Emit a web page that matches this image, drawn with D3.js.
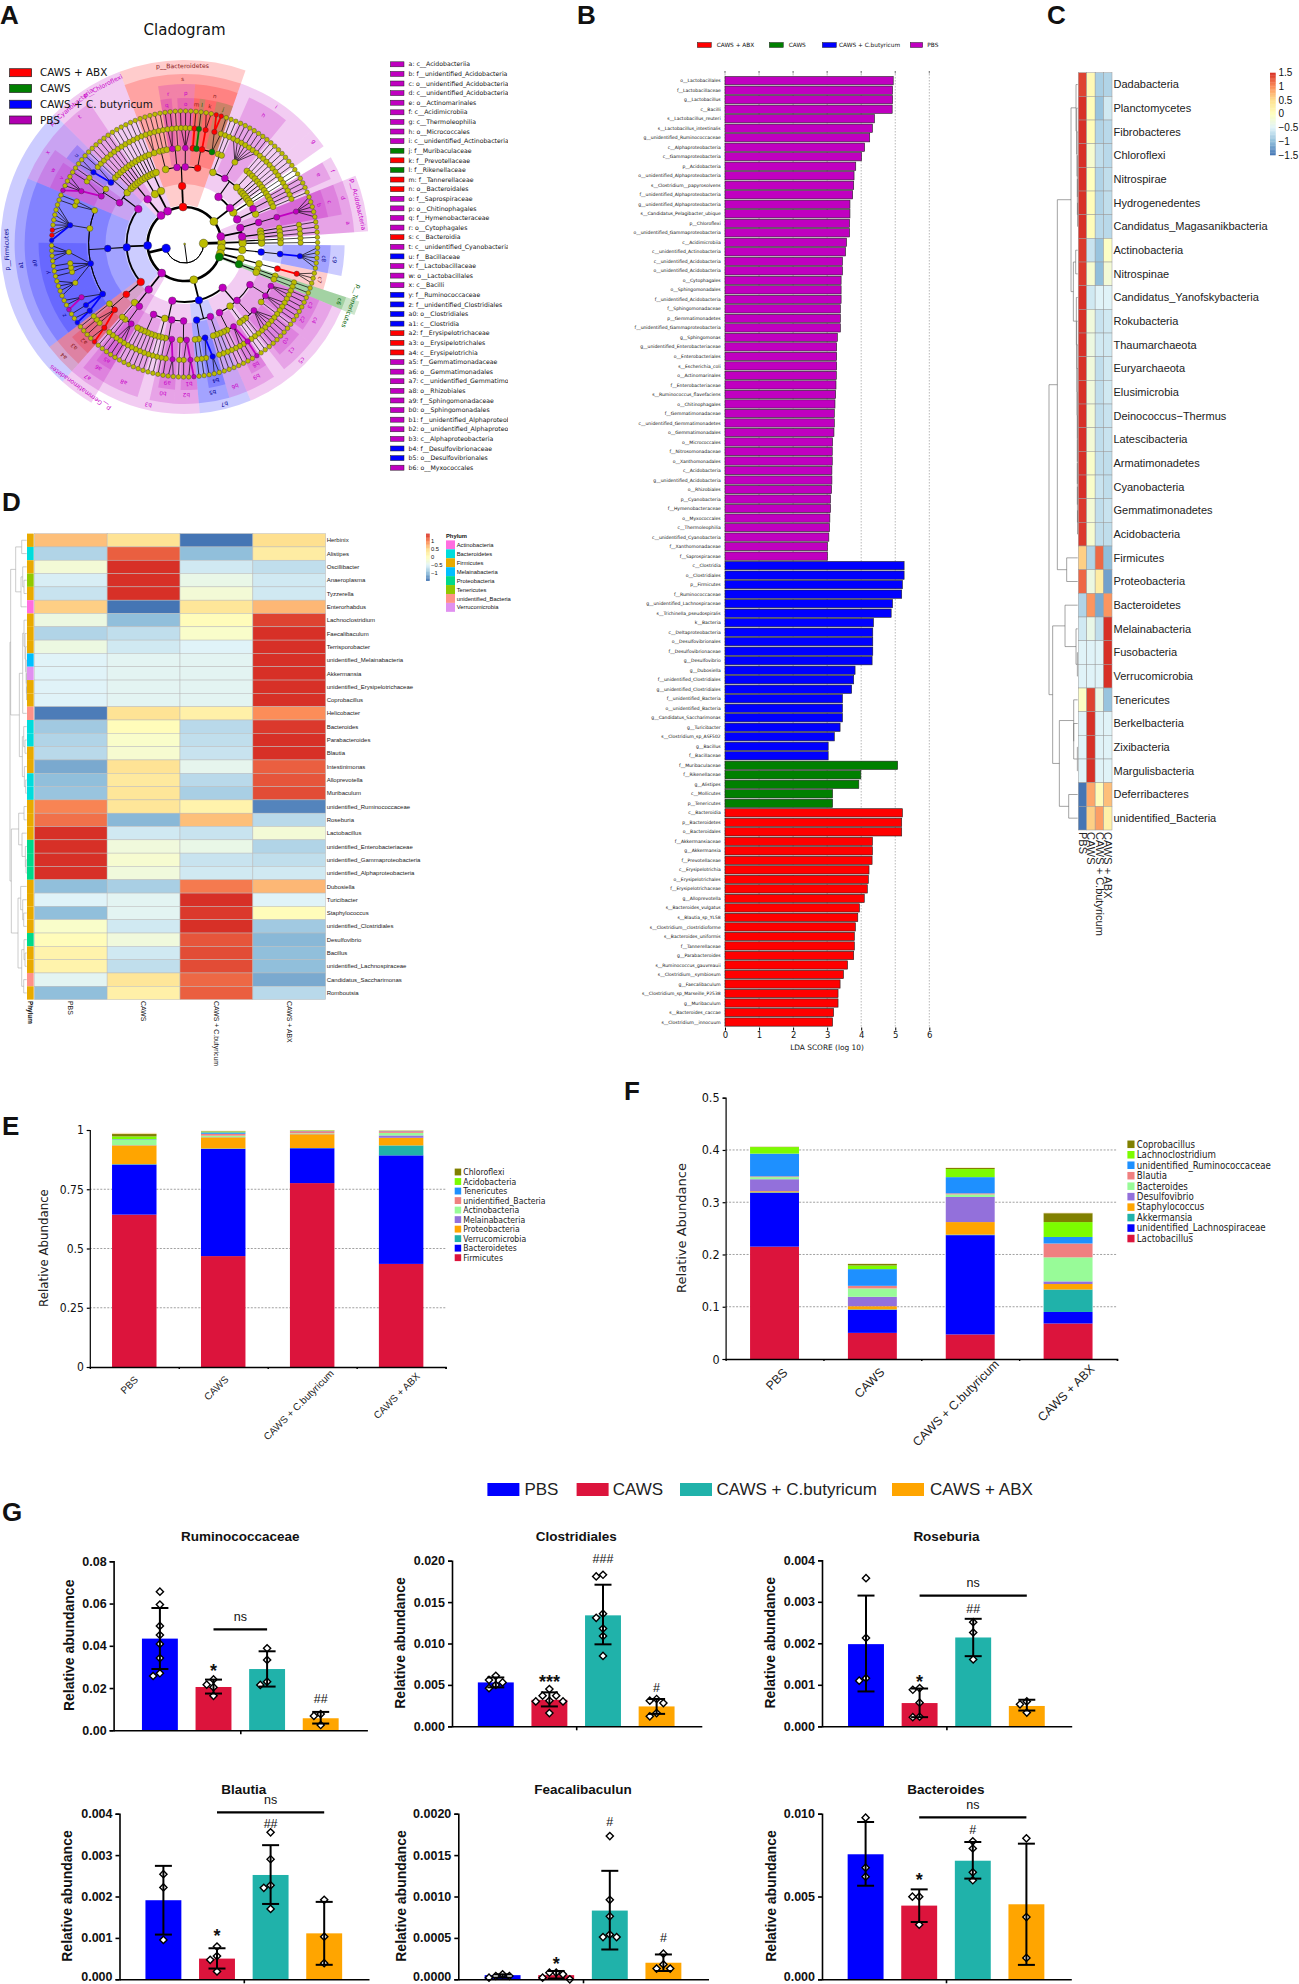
<!DOCTYPE html>
<html lang="en">
<head>
<meta charset="utf-8">
<script src="https://d3js.org/d3.v7.min.js"></script>
<style>
  body { margin: 0; background: white; }
  svg { display: block; }
  text { font-family: "Liberation Sans", Arial, sans-serif; fill: #111; }
  .dv { font-family: "DejaVu Sans", sans-serif; }
  .cond { font-family: "DejaVu Sans Condensed", "DejaVu Sans", sans-serif; font-stretch: condensed; }
  .bold { font-weight: bold; }
</style>
</head>
<body>
<svg id="fig" width="1299" height="1984"></svg>
<script>
// ---------- shared
const colRed = "#ff0000", colGreen = "#008000", colBlue = "#0000ff", colPurple = "#c000c0", colOlive = "#bcbc00";
const cladeColors = { r: colRed, g: colGreen, b: colBlue, p: colPurple };
const cladeText = { r: "#8b1a1a", g: "#006000", b: "#000090", p: "#c800c8" };
const groupNames = ["PBS", "CAWS", "CAWS + C.butyricum", "CAWS + ABX"];
const heatPalette = ["#4575b4", "#91bfdb", "#e0f3f8", "#ffffbf", "#fee090", "#fc8d59", "#d73027"];

// ---------- A cladogram
// node = ["colour:label", ...children], a bare number n = n plain branches down to species level
const cladeTree = ["",
  ["", ["", 2]],
  ["b",
    ["", ["", ["b:c9", ["b:c8", ["b", 5]]]]],
    ["", ["", ["", ["r:c7", ["r", 3]]]]],
    ["g:p__Tenericutes", ["g:c6", 2]],
    ["",
      ["p:c5",
        ["p:c4", ["p:c3", 3], ["p:c2", 3], 1],
        ["p:c1", ["p:c0", 5], 1],
        ["", 2],
        ["p:b9", ["p:b8", ["p", ["p"]], 2], 2]],
      ["b:b7", ["p:b6", 3], ["b:b5", ["b:b4", ["b", 2], 1], 2]],
      ["p:b3",
        ["p:b2", ["p:b1", ["p", ["p"], 1], 1], 1],
        ["p:b0", ["p:a9", ["p", 2], 1], 1],
        ["", 2],
        ["p:a8", 6]]],
    ["p:p__Gemmatimonadetes", ["p:a7", ["p:a6", ["p:a5", 3], 1], 1]],
    ["b:p__Firmicutes",
      ["r:a4", ["r:a3", ["r:a2", ["r", ["r"], 1], 2], 1]],
      ["b:a1", ["b:a0",
        ["b:z", ["b", ["b"], 1], ["b", 1], ["p", ["p"], 2]],
        ["b:y", ["", 4], 3, ["", 4]],
        ["", ["b", ["b"], ["r"], ["r"], 5]],
        ["", 2]]],
      ["p:x",
        ["p:w", ["p:v", ["p", ["p"], 3], 1], 1],
        ["", ["b:u", ["b", 2], 1], 1]]],
    ["p:p__Cyanobacteria", ["p:t", 5]],
    ["p:p__Chloroflexi", ["", 3], ["", 3]],
    ["r:p__Bacteroidetes", ["r:s",
      ["", ["", 2], 3],
      ["p:r", ["p:q", 2], 1],
      ["p:p", ["p:o", 3]],
      ["r:n", ["r:m", ["r", 1]], ["g:l", ["g", 1]], ["r:k", ["r", 2]], ["g:j", ["r", ["r"], ["r"]], 1]]]],
    ["",
      ["p:i", ["", 2], ["p:h", ["", 7]], ["", 3], 1],
      ["p:g", 3],
      ["", 2],
      ["p:f", ["p:e", 3], 1]],
    ["p:p__Acidobacteria", ["p:d", ["p:c", ["p:b", ["p", 5]]]], ["p:a", 3]]
  ]
];
const cladeLegendLetters = ["a","b","c","d","e","f","g","h","i","j","k","l","m","n","o","p","q","r","s","t","u","v","w","x","y","z","a0","a1","a2","a3","a4","a5","a6","a7","a8","a9","b0","b1","b2","b3","b4","b5","b6"];
const cladeLegendTaxa = ["c__Acidobacteriia","f__unidentified_Acidobacteria","o__unidentified_Acidobacteria","c__unidentified_Acidobacteria","o__Actinomarinales","c__Acidimicrobiia","c__Thermoleophilia","o__Micrococcales","c__unidentified_Actinobacteria","f__Muribaculaceae","f__Prevotellaceae","f__Rikenellaceae","f__Tannerellaceae","o__Bacteroidales","f__Saprospiraceae","o__Chitinophagales","f__Hymenobacteraceae","o__Cytophagales","c__Bacteroidia","c__unidentified_Cyanobacteria","f__Bacillaceae","f__Lactobacillaceae","o__Lactobacillales","c__Bacilli","f__Ruminococcaceae","f__unidentified_Clostridiales","o__Clostridiales","c__Clostridia","f__Erysipelotrichaceae","o__Erysipelotrichales","c__Erysipelotrichia","f__Gemmatimonadaceae","o__Gemmatimonadales","c__unidentified_Gemmatimonadetes","o__Rhizobiales","f__Sphingomonadaceae","o__Sphingomonadales","f__unidentified_Alphaproteobacteria","o__unidentified_Alphaproteobacteria","c__Alphaproteobacteria","f__Desulfovibrionaceae","o__Desulfovibrionales","o__Myxococcales"];
const cladeLegendColors = "pppppppppgrgrrppppr" .split("").concat("p","b","p","p","p","b","b","b","b","r","r","r","p","p","p","p","p","p","p","p","p","b","b","p");
const cladeKeyNames = ["CAWS + ABX", "CAWS", "CAWS + C. butyricum", "PBS"];

// ---------- B LDA
const ldaPbsNames = ["o__Lactobacillales","f__Lactobacillaceae","g__Lactobacillus","c__Bacilli","s__Lactobacillus_reuteri","s__Lactobacillus_intestinalis","g__unidentified_Ruminococcaceae","c__Alphaproteobacteria","c__Gammaproteobacteria","p__Acidobacteria","o__unidentified_Alphaproteobacteria","s__Clostridium__papyrosolvens","f__unidentified_Alphaproteobacteria","g__unidentified_Alphaproteobacteria","s__Candidatus_Pelagibacter_ubique","p__Chloroflexi","o__unidentified_Gammaproteobacteria","c__Acidimicrobiia","c__unidentified_Actinobacteria","c__unidentified_Acidobacteria","o__unidentified_Acidobacteria","o__Cytophagales","o__Sphingomonadales","f__unidentified_Acidobacteria","f__Sphingomonadaceae","p__Gemmatimonadetes","f__unidentified_Gammaproteobacteria","g__Sphingomonas","g__unidentified_Enterobacteriaceae","o__Enterobacteriales","s__Escherichia_coli","o__Actinomarinales","f__Enterobacteriaceae","s__Ruminococcus_flavefaciens","o__Chitinophagales","f__Gemmatimonadaceae","c__unidentified_Gemmatimonadetes","o__Gemmatimonadales","o__Micrococcales","f__Nitrosomonadaceae","o__Xanthomonadales","c__Acidobacteria","g__unidentified_Acidobacteria","o__Rhizobiales","p__Cyanobacteria","f__Hymenobacteraceae","o__Myxococcales","c__Thermoleophilia","c__unidentified_Cyanobacteria","f__Xanthomonadaceae","f__Saprospiraceae"];
const ldaPbsScores = [4.94,4.92,4.92,4.91,4.39,4.33,4.25,4.10,4.01,3.84,3.79,3.78,3.75,3.67,3.67,3.66,3.66,3.57,3.54,3.45,3.45,3.41,3.41,3.41,3.39,3.39,3.39,3.30,3.28,3.28,3.28,3.27,3.26,3.25,3.23,3.21,3.21,3.20,3.16,3.15,3.15,3.14,3.14,3.13,3.10,3.10,3.08,3.07,3.05,3.01,3.01];
const ldaCbNames = ["c__Clostridia","o__Clostridiales","p__Firmicutes","f__Ruminococcaceae","g__unidentified_Lachnospiraceae","s__Trichinella_pseudospiralis","k__Bacteria","c__Deltaproteobacteria","o__Desulfovibrionales","f__Desulfovibrionaceae","g__Desulfovibrio","g__Dubosiella","f__unidentified_Clostridiales","g__unidentified_Clostridiales","f__unidentified_Bacteria","o__unidentified_Bacteria","g__Candidatus_Saccharimonas","g__Turicibacter","s__Clostridium_sp_ASF502","g__Bacillus","f__Bacillaceae"];
const ldaCbScores = [5.26,5.26,5.21,5.19,4.92,4.88,4.36,4.34,4.34,4.34,4.32,3.82,3.78,3.72,3.45,3.45,3.45,3.38,3.21,3.03,3.03];
const ldaCawsNames = ["f__Muribaculaceae","f__Rikenellaceae","g__Alistipes","c__Mollicutes","p__Tenericutes"];
const ldaCawsScores = [5.07,3.99,3.93,3.16,3.16];
const ldaAbxNames = ["c__Bacteroidia","p__Bacteroidetes","o__Bacteroidales","f__Akkermansiaceae","g__Akkermansia","f__Prevotellaceae","c__Erysipelotrichia","o__Erysipelotrichales","f__Erysipelotrichaceae","g__Alloprevotella","s__Bacteroides_vulgatus","s__Blautia_sp_YL58","s__Clostridium__clostridioforme","s__Bacteroides_uniformis","f__Tannerellaceae","g__Parabacteroides","s__Ruminococcus_gauvreauii","s__Clostridium__symbiosum","g__Faecalibaculum","s__Clostridium_sp_Marseille_P2538","g__Muribaculum","s__Bacteroides_caccae","s__Clostridium__innocuum"];
const ldaAbxScores = [5.21,5.19,5.19,4.33,4.33,4.32,4.23,4.21,4.18,4.09,3.95,3.90,3.83,3.80,3.80,3.78,3.60,3.48,3.38,3.32,3.32,3.19,3.16];

// ---------- C phylum heatmap
const phylaC = ["Dadabacteria","Planctomycetes","Fibrobacteres","Chloroflexi","Nitrospirae","Hydrogenedentes","Candidatus_Magasanikbacteria","Actinobacteria","Nitrospinae","Candidatus_Yanofskybacteria","Rokubacteria","Thaumarchaeota","Euryarchaeota","Elusimicrobia","Deinococcus\u2212Thermus","Latescibacteria","Armatimonadetes","Cyanobacteria","Gemmatimonadetes","Acidobacteria","Firmicutes","Proteobacteria","Bacteroidetes","Melainabacteria","Fusobacteria","Verrucomicrobia","Tenericutes","Berkelbacteria","Zixibacteria","Margulisbacteria","Deferribacteres","unidentified_Bacteria"];
const heatC = [[1.4,.1,-.85,-.8],[1.5,.05,-.95,-.6],[1.5,.05,-.8,-.75],[1.5,-.15,-.7,-.75],[1.5,0,-.8,-.7],[1.5,.05,-.8,-.7],[1.5,.05,-.75,-.75],[1.45,-.65,-.95,-.05],[1.45,-.15,-1,-.2],[1.5,-.6,-.5,-.5],[1.5,-.25,-.65,-.6],[1.5,-.3,-.6,-.6],[1.5,-.25,-.7,-.6],[1.5,-.25,-.7,-.6],[1.5,-.2,-.7,-.65],[1.5,-.2,-.7,-.65],[1.5,-.1,-.7,-.7],[1.5,-.1,-.65,-.7],[1.45,-.2,-.7,-.65],[1.45,-.15,-.7,-.7],[.6,-.8,1.2,-1],[1.2,-.3,.3,-1.2],[-.8,.95,-1.15,.95],[-.6,-.35,-.7,1.5],[-.5,-.5,-.5,1.5],[-.5,-.5,-.5,1.5],[-.05,1.4,-.35,-.95],[-.5,1.5,-.5,-.5],[-.5,1.5,-.5,-.5],[-.5,1.5,-.5,-.5],[-1.5,.85,.05,.7],[-1.5,.6,.9,.25]];
// merge tree: [height, left, right], a bare number is a row index
const treeC = [86,
  [61,
    [20,
      [5,0,[3,1,[2,2,[1,3,[1,4,[.5,5,6]]]]]],
      [13,[6,7,8],[4,9,[3,10,[2,11,[2,12,[1,13,[1,14,[1,15,[1,16,[.8,17,[.6,18,19]]]]]]]]]]]],
    [33,20,21]],
  [75,
    [38,22,[5,23,[1,24,25]]],
    [55,[12,26,[12,27,[1,28,29]]],[27,30,31]]]];

// ---------- D genus heatmap
const generaD = ["Herbinix","Alistipes","Oscillibacter","Anaeroplasma","Tyzzerella","Enterorhabdus","Lachnoclostridium","Faecalibaculum","Terrisporobacter","unidentified_Melainabacteria","Akkermansia","unidentified_Erysipelotrichaceae","Coprobacillus","Helicobacter","Bacteroides","Parabacteroides","Blautia","Intestinimonas","Alloprevotella","Muribaculum","unidentified_Ruminococcaceae","Roseburia","Lactobacillus","unidentified_Enterobacteriaceae","unidentified_Gammaproteobacteria","unidentified_Alphaproteobacteria","Dubosiella","Turicibacter","Staphylococcus","unidentified_Clostridiales","Desulfovibrio","Bacillus","unidentified_Lachnospiraceae","Candidatus_Saccharimonas","Romboutsia"];
const heatD = [[.7,.45,-1.5,.5],[-.8,1.25,-1,.3],[-.2,1.5,-.6,-.7],[-.55,1.5,-.35,-.6],[-.65,1.5,-.2,-.6],[.6,-1.5,.4,.75],[-.3,-1,.05,1.4],[-.8,-.7,-.1,1.5],[-.3,-.6,-.5,1.5],[-.5,-.45,-.45,1.5],[-.5,-.45,-.45,1.5],[-.5,-.45,-.45,1.5],[-.5,-.45,-.45,1.5],[-1.45,.45,.25,1],[-.9,.05,-.75,1.45],[-.8,-.1,-.7,1.5],[-.75,-.15,-.65,1.5],[-1.15,.45,-.4,1.25],[-1,.35,-.75,1.3],[-.95,.4,-.85,1.35],[1.05,.4,.2,-1.4],[1.15,-1.05,.7,-.75],[1.5,-.6,-.65,-.2],[1.5,-.25,-.35,-.8],[1.5,-.15,-.65,-.7],[1.5,-.25,-.6,-.6],[-1,-.85,1.1,.75],[-.5,-.45,1.5,-.5],[-1,-.45,1.45,.05],[-.1,-.6,1.5,-.9],[.05,-.25,1.3,-1.05],[.2,-.6,1.35,-1],[.2,-.7,1.35,-1],[-.45,.4,1.2,-1.15],[-1,.25,1.25,-.75]];
const phylumNames = ["Actinobacteria","Bacteroidetes","Firmicutes","Melainabacteria","Proteobacteria","Tenericutes","unidentified_Bacteria","Verrucomicrobia"];
const phylumColors = ["#ff6ee0","#00dcdc","#e8aa00","#00bfff","#00d98a","#90c800","#ff9289","#e090f0"];
const phylumOfGenus = [2,1,2,5,2,0,2,2,2,3,7,2,2,6,1,1,2,2,1,1,2,2,2,4,4,4,2,2,2,2,4,2,2,6,2];
const treeD = [50,
  [48,
    [33,[15,0,1],[17,[12,2,[8,3,4]],5]],
    [22,[12,[8,6,[5,7,[3,8,[1.5,9,[1,10,[.6,11,12]]]]]],13],[13,[9,14,[5,15,16]],[7,17,[3,18,19]]]]],
  [46,
    [24,[8,20,21],[14,22,[4,23,[2,24,25]]]],
    [26,[18,26,[12,27,[9,28,29]]],[15,[8,30,[5,31,32]],[9,33,34]]]]];

// ---------- E, F stacked bars
const eSeries = ["Firmicutes","Bacteroidetes","Verrucomicrobia","Proteobacteria","Melainabacteria","Actinobacteria","unidentified_Bacteria","Tenericutes","Acidobacteria","Chloroflexi","Others"];
const eColors = ["#dc143c","#0000ff","#20b2aa","#ffa500","#9370db","#98fb98","#f08080","#1e90ff","#7cfc00","#808000","#f5deb3"];
const eValues = [
  [.643,.211,.002,.079,.001,.022,.001,.002,.012,.010,.005],
  [.468,.452,.002,.047,.001,.006,.008,.006,.003,.002,.002],
  [.776,.147,.001,.058,.001,.003,.009,.001,.002,.001,.001],
  [.435,.458,.042,.032,.010,.011,.007,.001,.001,.001,.002]];
const fSeries = ["Lactobacillus","unidentified_Lachnospiraceae","Akkermansia","Staphylococcus","Desulfovibrio","Bacteroides","Blautia","unidentified_Ruminococcaceae","Lachnoclostridium","Coprobacillus","Others"];
const fValues = [
  [.215,.103,.001,.002,.023,.004,.0015,.0435,.0125,.0005,.0005],
  [.050,.044,.001,.006,.018,.016,.005,.032,.007,.003,.0005],
  [.047,.190,.001,.024,.048,.005,.002,.031,.0155,.002,.001],
  [.068,.022,.043,.0105,.005,.046,.0265,.0125,.0285,.017,.001]];

// ---------- G bar panels
const gColors = ["#0000ff","#dc143c","#20b2aa","#ffa500"];
const gTitles = ["Ruminococcaceae","Clostridiales","Roseburia","Blautia","Feacalibaculun","Bacteroides"];
const gTicks = [[0,.02,.04,.06,.08],[0,.005,.01,.015,.02],[0,.001,.002,.003,.004],[0,.001,.002,.003,.004],[0,.0005,.001,.0015,.002],[0,.005,.01]];
const gTickFormats = [".2f",".3f",".3f",".3f",".4f",".3f"];
const gMeans = [[.0434,.0205,.029,.0057],[.0053,.0032,.0134,.0024],[.00198,.00056,.00214,.00049],[.00191,.0005,.00252,.00111],[.00005,.00005,.00083,.0002],[.00755,.00445,.00716,.00453]];
const gUpper = [[.0579,.024,.0374,.0087],[.0059,.0041,.0171,.0033],[.00315,.00091,.00259,.00064],[.00274,.00075,.00324,.00187],[.00006,.0001,.00131,.0003],[.0095,.00543,.00829,.00819]];
const gLower = [[.029,.0174,.0207,.0032],[.0047,.0024,.0099,.0015],[.00084,.00022,.00169,.00038],[.00108,.00026,.00182,.00035],[.00002,.00001,.00036,.0001],[.00565,.00346,.00608,.00087]];
const gPoints = [
  [[.0656,.0595,.0494,.0451,.0409,.0342,.027,.0257],[.0241,.0216,.0204,.0163],[.0388,.0333,.023,.0215],[.0077,.0068,.0025]],
  [[.0061,.0056,.0053,.005,.0046],[.0045,.0037,.0037,.0031,.003,.003,.0016],[.0183,.0181,.0136,.0131,.0118,.0109,.0085],[.0033,.0031,.0028,.0016,.0012]],
  [[.00357,.00213,.00116,.0011],[.00092,.00088,.00057,.00023,.00022],[.00251,.00226,.00161],[.0006,.00053,.00033]],
  [[.00254,.00222,.00095],[.00079,.00056,.00047,.00019],[.00355,.0029,.00227,.00221,.0017],[.00192,.00103,.00039]],
  [[.00006,.00004,.00004,.00002],[.00008,.00008,.00006,.00002,0],[.00173,.00096,.00076,.00054,.00051,.00051],[.00031,.00018,.00013,.00013]],
  [[.00976,.00674,.0062],[.00499,.00499,.0033],[.00833,.0079,.00646,.00598],[.00851,.00376,.00129]]];
// significance: [mark, group, value level]
const gMarks = [
  [["*",1,.0301],["##",3,.0148]],
  [["***",1,.00583],["###",2,.0202],["#",3,.0047]],
  [["*",1,.00117],["##",2,.00283]],
  [["*",1,.00114],["##",2,.00377]],
  [["*",1,.00024],["#",2,.0019],["#",3,.0005]],
  [["*",1,.00624],["#",2,.00901]]];
// ns brackets: [from group, to group, value level], null if none
const gNs = [[1,2,.0478],null,[1,3,.00315],[1,3,.00403],null,[1,3,.00978]];

// ---------- drawing
const svg = d3.select("#fig");
const heatColor = d3.scaleLinear().domain([-1.5,-1,-.5,0,.5,1,1.5]).range(heatPalette).clamp(true);

function panelLetter(t, x, y) {
  svg.append("text").attr("class", "bold").attr("x", x).attr("y", y).attr("font-size", 26).text(t);
}
[["A",0,24],["B",577,24],["C",1047,24],["D",2,511],["E",2,1135],["F",624,1100],["G",2,1521]].forEach(d => panelLetter(...d));

// A
function drawCladogram() {
  const g = svg.append("g").attr("transform", "translate(184.6,244)");
  const radius = [0,19,37,58,77,96,116,133];
  const bandOuter = { 2: 184, 3: 170, 4: 160, 5: 146, 6: 138 };
  const labelR = { 2: 178, 3: 165, 4: 151, 5: 140, 6: 136 };
  const startAngle = 86;
  const nodeR = [1,4.3,4,3.8,3.4,3,2.7,2.3];

  function chains(n, depth) {
    return d3.range(n).map(() => ({ col: "", label: "", children: depth < 7 ? chains(1, depth + 1) : [] }));
  }
  function build(spec, depth) {
    const head = typeof spec[0] === "string" ? spec[0] : "";
    const [col, label] = head.split(":");
    const rest = spec.filter(s => typeof s !== "string");
    const children = rest.flatMap(c => typeof c === "number" ? chains(c, depth + 1) : [build(c, depth + 1)]);
    return { col, label: label || "", children };
  }
  const root = d3.hierarchy(build(cladeTree, 0));
  d3.cluster().size([360, 1]).separation(() => 1)(root);
  const rad = a => (a + startAngle) * Math.PI / 180;
  const pos = (a, r) => d3.pointRadial(rad(a), r);
  const leafStep = 360 / root.leaves().length;

  // shaded sectors
  const arc = d3.arc();
  const shaded = root.descendants().filter(d => d.data.label);
  g.append("g").selectAll("path").data(shaded).join("path")
    .attr("d", d => {
      const lv = d.leaves();
      return arc({ innerRadius: radius[d.depth] + 2, outerRadius: bandOuter[d.depth],
        startAngle: rad(lv[0].x - leafStep / 2), endAngle: rad(lv[lv.length - 1].x + leafStep / 2) });
    })
    .attr("fill", d => cladeColors[d.data.col]).attr("fill-opacity", .2);

  // edges
  const edges = g.append("g").attr("fill", "none").attr("stroke", "#000");
  root.descendants().filter(d => d.children).forEach(p => {
    const cr = radius[p.depth + 1];
    const sw = [1, 2.6, 1.8, 1.2, .9, .7, .6][p.depth];
    if (p.depth <= 4) {
      const xs = p.children.map(c => c.x).concat(p.x);
      edges.append("path").attr("stroke-width", sw).attr("d", arc({ innerRadius: cr, outerRadius: cr, startAngle: rad(d3.min(xs)), endAngle: rad(d3.max(xs)) }));
      edges.append("path").attr("stroke-width", sw).attr("d", d3.line()([pos(p.x, radius[p.depth]), pos(p.x, cr)]));
      p.children.forEach(c => {
        const same = c.data.col && c.data.col === p.data.col && p.depth >= 2;
        edges.append("path").attr("stroke-width", same ? 1.8 : Math.min(sw, .9))
          .attr("stroke", same ? cladeColors[c.data.col] : "#000")
          .attr("d", d3.line()([pos(c.x, cr), pos(c.x, radius[c.depth])]));
      });
    } else {
      p.children.forEach(c => {
        const same = c.data.col && c.data.col === p.data.col;
        edges.append("path").attr("stroke-width", same ? 1.8 : .7)
          .attr("stroke", same ? cladeColors[c.data.col] : "#000")
          .attr("d", d3.line()([pos(p.x, radius[p.depth]), pos(c.x, radius[c.depth])]));
      });
    }
  });

  // nodes
  g.append("g").selectAll("circle").data(root.descendants().sort((a, b) => !!a.data.col - !!b.data.col)).join("circle")
    .attr("cx", d => pos(d.x, radius[d.depth])[0]).attr("cy", d => pos(d.x, radius[d.depth])[1])
    .attr("r", d => nodeR[d.depth])
    .attr("fill", d => cladeColors[d.data.col] || colOlive)
    .attr("stroke", "#333").attr("stroke-width", .4);

  // sector labels
  g.append("g").selectAll("text").data(shaded).join("text").attr("class", "dv")
    .attr("text-anchor", "middle").attr("font-size", d => d.depth === 2 ? 6.2 : 5.6)
    .style("fill", d => cladeText[d.data.col]).attr("dy", "0.35em")
    .attr("transform", d => {
      const lv = d.leaves();
      const a = (lv[0].x + lv[lv.length - 1].x) / 2 + startAngle;
      return `rotate(${a}) translate(0,${-labelR[d.depth]})`;
    })
    .text(d => d.data.label);

  svg.append("text").attr("class", "dv").attr("x", 184.6).attr("y", 35).attr("text-anchor", "middle").attr("font-size", 15).text("Cladogram");

  // key top left
  const keyColors = [colRed, colGreen, colBlue, "#b000b0"];
  cladeKeyNames.forEach((n, i) => {
    const y = d3.scaleLinear().domain([0, 3]).range([72.7, 120])(i);
    svg.append("rect").attr("x", 9.6).attr("y", y - 4).attr("width", 22).attr("height", 8).attr("fill", keyColors[i]).attr("stroke", "#222").attr("stroke-width", .7);
    svg.append("text").attr("class", "dv").attr("x", 40).attr("y", y).attr("dy", ".35em").attr("font-size", 10.4).text(n);
  });

  // taxa key right, the long names run out of the key box as in the original
  svg.append("clipPath").attr("id", "taxaClip").append("rect").attr("x", 380).attr("y", 50).attr("width", 128).attr("height", 430);
  const ky = d3.scaleLinear().domain([0, 42]).range([64.3, 467.7]);
  const key = svg.append("g").attr("clip-path", "url(#taxaClip)");
  cladeLegendLetters.forEach((l, i) => {
    key.append("rect").attr("x", 390.4).attr("y", ky(i) - 2.5).attr("width", 13.6).attr("height", 5).attr("fill", cladeColors[cladeLegendColors[i]]).attr("stroke", "#222").attr("stroke-width", .5);
    key.append("text").attr("class", "dv").attr("x", 408.6).attr("y", ky(i)).attr("dy", ".35em").attr("font-size", 6.2).text(`${l}: ${cladeLegendTaxa[i]}`);
  });
}
drawCladogram();

// B
function drawLda() {
  const names = [...ldaPbsNames, ...ldaCbNames, ...ldaCawsNames, ...ldaAbxNames];
  const scores = [...ldaPbsScores, ...ldaCbScores, ...ldaCawsScores, ...ldaAbxScores];
  const cols = [...ldaPbsNames.map(() => colPurple), ...ldaCbNames.map(() => colBlue), ...ldaCawsNames.map(() => colGreen), ...ldaAbxNames.map(() => colRed)];
  const x = d3.scaleLinear().domain([0, 6]).range([725, 929.3]);
  const y = d3.scaleBand().domain(d3.range(names.length)).range([75.3, 1027.4]).padding(.13);
  const g = svg.append("g");
  g.selectAll(".grid").data(x.ticks(6)).join("line").attr("x1", x).attr("x2", x).attr("y1", 71).attr("y2", 1027)
    .attr("stroke", "#888").attr("stroke-width", .6).attr("stroke-dasharray", "1.5,1.5");
  g.selectAll("rect").data(scores).join("rect").attr("x", x(0)).attr("y", (d, i) => y(i)).attr("width", d => x(d) - x(0)).attr("height", y.bandwidth())
    .attr("fill", (d, i) => cols[i]).attr("stroke", "#222").attr("stroke-width", .6);
  g.selectAll(".nm").data(names).join("text").attr("class", "dv").attr("x", 720.7).attr("y", (d, i) => y(i) + y.bandwidth() / 2)
    .attr("dy", ".35em").attr("text-anchor", "end").attr("font-size", 4.5).text(d => d);
  const ax = g.append("g").attr("transform", "translate(0,1027.5)").call(d3.axisBottom(x).ticks(6).tickSize(3).tickFormat(d3.format("d")));
  ax.select(".domain").remove();
  ax.selectAll("text").attr("class", "dv").attr("font-size", 8.5).style("fill", "#111").attr("dy", ".55em");
  g.append("text").attr("class", "dv").attr("x", 827).attr("y", 1050).attr("text-anchor", "middle").attr("font-size", 7.4).text("LDA SCORE (log 10)");
  // small ticks along the top
  g.selectAll(".tt").data(x.ticks(6)).join("line").attr("x1", x).attr("x2", x).attr("y1", 71).attr("y2", 73.5).attr("stroke", "#555").attr("stroke-width", .7);
  const keyX = [[697.3,14,716.7],[769.3,14,788.7],[822.3,14,839],[910.3,12.4,927.3]];
  const keyNames = ["CAWS + ABX", "CAWS", "CAWS + C.butyricum", "PBS"];
  const keyCols = [colRed, colGreen, colBlue, colPurple];
  keyNames.forEach((n, i) => {
    g.append("rect").attr("x", keyX[i][0]).attr("y", 42.5).attr("width", keyX[i][1]).attr("height", 5).attr("fill", keyCols[i]).attr("stroke", "#222").attr("stroke-width", .5);
    g.append("text").attr("class", "dv").attr("x", keyX[i][2]).attr("y", 45).attr("dy", ".35em").attr("font-size", 5.8).text(n);
  });
}
drawLda();

// heat helper
function drawHeat(rows, matrix, x0, x1, y0, y1, stroke) {
  const g = svg.append("g");
  const x = d3.scaleBand().domain(d3.range(4)).range([x0, x1]);
  const y = d3.scaleBand().domain(d3.range(rows.length)).range([y0, y1]);
  matrix.forEach((r, i) => {
    g.selectAll(null).data(r).join("rect").attr("x", (d, j) => x(j)).attr("y", y(i)).attr("width", x.bandwidth()).attr("height", y.bandwidth())
      .attr("fill", d => heatColor(d)).attr("stroke", stroke).attr("stroke-width", .5);
  });
  return { g, x, y };
}
function drawDendro(g, tree, y, xScale, stroke) {
  function walk(n) {
    if (typeof n === "number") return { x: xScale(0), y: y(n) + y.bandwidth() / 2 };
    const a = walk(n[1]), b = walk(n[2]), hx = xScale(n[0]);
    g.append("path").attr("fill", "none").attr("stroke", stroke).attr("stroke-width", .6)
      .attr("d", d3.line()([[a.x, a.y], [hx, a.y], [hx, b.y], [b.x, b.y]]));
    return { x: hx, y: (a.y + b.y) / 2 };
  }
  walk(tree);
}
function drawColorbar(x0, w, y0, y1, ticks, size, labelX) {
  const cy = d3.scaleLinear().domain([1.5, -1.5]).range([y0, y1]);
  const steps = d3.range(-1.5, 1.5, .05);
  svg.append("g").selectAll("rect").data(steps).join("rect").attr("x", x0).attr("width", w)
    .attr("y", d => cy(d + .05)).attr("height", d => cy(d) - cy(d + .05) + .3).attr("fill", d => heatColor(d + .025));
  svg.append("g").selectAll("text").data(ticks).join("text").attr("x", labelX).attr("y", d => cy(d)).attr("dy", ".35em")
    .attr("font-size", size).text(d => String(d).replace("-", "\u2212"));
}

// C
{
  const { g, x, y } = drawHeat(phylaC, heatC, 1078.3, 1112, 72.7, 830, "#999");
  g.selectAll(".lb").data(phylaC).join("text").attr("x", 1113.5).attr("y", (d, i) => y(i) + y.bandwidth() / 2).attr("dy", ".35em").attr("font-size", 11).style("fill", "#222").text(d => d);
  groupNames.forEach((n, j) => {
    g.append("text").attr("transform", `translate(${x(j) + x.bandwidth() / 2},832) rotate(90)`).attr("dy", ".35em").attr("font-size", 11).style("fill", "#222").text(n);
  });
  drawDendro(g, treeC, y, d3.scaleLinear().domain([0, 86]).range([1077.7, 1049]), "#666");
  drawColorbar(1270, 5.7, 72.7, 155, [1.5, 1, .5, 0, -.5, -1, -1.5], 10, 1278.5);
}

// D
{
  const { g, x, y } = drawHeat(generaD, heatD, 34.3, 325.7, 533.6, 999.6, "#bbb");
  g.selectAll(".lb").data(generaD).join("text").attr("x", 326.7).attr("y", (d, i) => y(i) + y.bandwidth() / 2).attr("dy", ".35em").attr("font-size", 6).style("fill", "#222").text(d => d);
  g.selectAll(".ph").data(phylumOfGenus).join("rect").attr("x", 27).attr("width", 6.7).attr("y", (d, i) => y(i)).attr("height", y.bandwidth()).attr("fill", d => phylumColors[d]);
  groupNames.forEach((n, j) => {
    g.append("text").attr("transform", `translate(${x(j) + x.bandwidth() / 2},1001) rotate(90)`).attr("dy", ".35em").attr("font-size", 6.9).style("fill", "#222").text(n);
  });
  g.append("text").attr("class", "bold").attr("transform", "translate(30,1001) rotate(90)").attr("dy", ".35em").attr("font-size", 6.3).text("Phylum");
  drawDendro(g, treeD, y, d3.scaleLinear().domain([0, 50]).range([26.7, 10]), "#aaa");
  drawColorbar(426, 3.7, 533.6, 580.6, [1, .5, 0, -.5, -1], 5.8, 431);
  g.append("text").attr("class", "bold").attr("x", 446).attr("y", 535.7).attr("dy", ".35em").attr("font-size", 5.8).text("Phylum");
  phylumNames.forEach((n, i) => {
    const ly = 540.4 + i * 8.93;
    g.append("rect").attr("x", 446).attr("y", ly).attr("width", 9).attr("height", 8.93).attr("fill", phylumColors[i]);
    g.append("text").attr("x", 456.7).attr("y", ly + 4.5).attr("dy", ".35em").attr("font-size", 5.8).text(n);
  });
}

// E, F
function drawStack(cfg) {
  const g = svg.append("g");
  const y = d3.scaleLinear().domain([0, cfg.max]).range([cfg.y0, cfg.y1]);
  const x = d3.scaleBand().domain(groupNames).range([cfg.x0, cfg.x1]).paddingInner(.5).paddingOuter(.25);
  const table = groupNames.map((n, i) => {
    const row = { group: n };
    cfg.series.forEach((s, k) => row[s] = cfg.values[i][k]);
    return row;
  });
  cfg.grid.forEach(v => {
    g.append("line").attr("x1", cfg.x0).attr("x2", cfg.x1).attr("y1", y(v)).attr("y2", y(v))
      .attr("stroke", "#888").attr("stroke-width", .8).attr("stroke-dasharray", "2,1.5");
  });
  const stack = d3.stack().keys(cfg.series)(table);
  g.selectAll(".layer").data(stack).join("g").attr("fill", (d, i) => eColors[i])
    .selectAll("rect").data(d => d).join("rect").attr("x", d => x(d.data.group)).attr("width", x.bandwidth())
    .attr("y", d => y(d[1])).attr("height", d => y(d[0]) - y(d[1]));
  const ay = g.append("g").attr("transform", `translate(${cfg.x0},0)`).call(d3.axisLeft(y).tickValues(cfg.ticks).tickSize(3).tickFormat(d => String(d)));
  ay.selectAll("text").attr("class", "cond").attr("font-size", cfg.tickSize).style("fill", "#111");
  ay.selectAll("line,path").attr("stroke-width", 1.2);
  const slot = d3.scaleLinear().domain([0, 4]).range([cfg.x0, cfg.x1]);
  const ax = g.append("g").attr("transform", `translate(0,${cfg.y0})`).call(d3.axisBottom(slot).tickValues([1, 2, 3, 4]).tickSize(2).tickFormat(""));
  ax.selectAll("line,path").attr("stroke-width", 1.4);
  groupNames.forEach((n, i) => {
    g.append("text").attr("transform", `translate(${x(n) + x.bandwidth() / 2 + cfg.labelDx[i]},${cfg.labelY[i]}) rotate(-45)`)
      .attr("text-anchor", "middle").attr("dy", ".35em").attr("font-size", cfg.labelSize).style("fill", "#222").text(n);
  });
  g.append("text").attr("class", "dv").attr("transform", `translate(${cfg.titleX},${cfg.titleY}) rotate(-90)`).attr("text-anchor", "middle").attr("dy", ".35em")
    .attr("font-size", cfg.titleSize).style("fill", "#222").text("Relative Abundance");
  // legend reads top down, last series first
  cfg.series.slice(0, 10).reverse().forEach((s, i) => {
    const ly = cfg.legY + i * cfg.legStep;
    g.append("rect").attr("x", cfg.legX).attr("y", ly - cfg.legStep * .36).attr("width", cfg.legStep * .68).attr("height", cfg.legStep * .72).attr("fill", eColors[9 - i]);
    g.append("text").attr("class", "cond").attr("x", cfg.legX + cfg.legStep * .9).attr("y", ly).attr("dy", ".35em").attr("font-size", cfg.legSize).style("fill", "#222").text(s);
  });
}
drawStack({ series: eSeries, values: eValues, max: 1, x0: 89.8, x1: 445.6, y0: 1367, y1: 1130, grid: [.25, .5, .75], ticks: [0, .25, .5, .75, 1], tickSize: 12,
  labelDx: [-5, -7, -13.5, -4.4], labelY: [1385, 1388, 1405, 1395.7], labelSize: 10, titleX: 43.5, titleY: 1248, titleSize: 11.8, legX: 454.7, legY: 1172, legStep: 9.52, legSize: 8.6 });
drawStack({ series: fSeries, values: fValues, max: .5, x0: 725.6, x1: 1117, y0: 1359, y1: 1097.7, grid: [.1, .2, .3, .4], ticks: [0, .1, .2, .3, .4, .5], tickSize: 12.5,
  labelDx: [2, -3, -14.5, -2], labelY: [1379, 1382.7, 1403, 1393], labelSize: 12.3, titleX: 681, titleY: 1228, titleSize: 13, legX: 1127.4, legY: 1144.3, legStep: 10.47, legSize: 9.6 });

// G legend
{
  const swatchX = [487.4, 576.6, 680, 892], textX = [524.4, 612.8, 716.5, 930];
  groupNames.forEach((n, i) => {
    svg.append("rect").attr("x", swatchX[i]).attr("y", 1483).attr("width", 32).attr("height", 13).attr("fill", gColors[i]);
    svg.append("text").attr("x", textX[i]).attr("y", 1489.5).attr("dy", ".35em").attr("font-size", 17).style("fill", "#222").text(n);
  });
}

// G panels
const gLayout = [
  { ax: 113.6, top: 1561.3, bot: 1730.3, right: 367.4, mid: 240.3, titleY: 1536, labX: 68.6 },
  { ax: 452, top: 1560.7, bot: 1726.3, right: 701.8, mid: 576.2, titleY: 1536, labX: 400 },
  { ax: 822, top: 1560.3, bot: 1726.3, right: 1071.7, mid: 946.4, titleY: 1536, labX: 770 },
  { ax: 119.5, top: 1813.7, bot: 1979.3, right: 369, mid: 243.8, titleY: 1789.3, labX: 67 },
  { ax: 458.3, top: 1813.7, bot: 1979.3, right: 708.5, mid: 583, titleY: 1789.3, labX: 401 },
  { ax: 822, top: 1813.7, bot: 1979.3, right: 1071.3, mid: 946, titleY: 1789.3, labX: 770.7 }];

function drawPanel(k) {
  const L = gLayout[k];
  const g = svg.append("g");
  const y = d3.scaleLinear().domain([0, d3.max(gTicks[k])]).range([L.bot, L.top]);
  const step = 53.6;
  const x = d3.scaleBand().domain(d3.range(4)).range([L.mid - 2 * step, L.mid + 2 * step]).paddingInner(.33).paddingOuter(.165);
  const cx = i => x(i) + x.bandwidth() / 2;

  g.selectAll(".bar").data(gMeans[k]).join("rect").attr("x", (d, i) => x(i)).attr("width", x.bandwidth())
    .attr("y", d => y(d)).attr("height", d => L.bot - y(d)).attr("fill", (d, i) => gColors[i]);

  // diamonds, placed side by side when values collide
  const dx = 6.8, minGap = 7;
  gPoints[k].forEach((vals, i) => {
    const placed = [];
    vals.forEach(v => {
      const py = y(v);
      const off = [0, -1, 1, -2, 2].find(o => !placed.some(p => p.o === o && Math.abs(p.y - py) < minGap));
      placed.push({ o: off, y: py });
    });
    g.selectAll(null).data(placed).join("path").attr("d", d3.symbol(d3.symbolSquare, 26)())
      .attr("transform", d => `translate(${cx(i) + d.o * dx},${d.y}) rotate(45)`)
      .attr("fill", "#fff").attr("stroke", "#000").attr("stroke-width", 1.4);
  });

  // error bars
  gMeans[k].forEach((m, i) => {
    const lines = [[[cx(i), y(gLower[k][i])], [cx(i), y(gUpper[k][i])]],
      [[cx(i) - 8.5, y(gUpper[k][i])], [cx(i) + 8.5, y(gUpper[k][i])]],
      [[cx(i) - 8.5, y(gLower[k][i])], [cx(i) + 8.5, y(gLower[k][i])]]];
    lines.forEach(l => g.append("path").attr("d", d3.line()(l)).attr("stroke", "#000").attr("stroke-width", 2).attr("fill", "none"));
  });

  const ay = g.append("g").attr("transform", `translate(${L.ax},0)`)
    .call(d3.axisLeft(y).tickValues(gTicks[k]).tickSize(4).tickFormat(d3.format(gTickFormats[k])));
  ay.selectAll("text").attr("class", "bold").attr("font-size", 12.5).style("fill", "#111");
  // the lower row sits on the bottom edge of the page, keep its zero label inside
  if (L.bot > 1970) ay.selectAll("text").filter(d => d === 0).attr("dy", ".1em");
  ay.selectAll("line,path").attr("stroke-width", 1.6);
  const xl = d3.scaleLinear().domain([L.ax, L.right]).range([L.ax, L.right]);
  const ax = g.append("g").attr("transform", `translate(0,${L.bot})`).call(d3.axisBottom(xl).tickValues([L.mid]).tickSize(4).tickSizeOuter(0).tickFormat(""));
  ax.selectAll("line,path").attr("stroke-width", 1.6);

  g.append("text").attr("class", "bold").attr("x", L.mid).attr("y", L.titleY).attr("dy", ".35em").attr("text-anchor", "middle").attr("font-size", 13.5).text(gTitles[k]);
  g.append("text").attr("class", "bold").attr("transform", `translate(${L.labX},${(L.top + L.bot) / 2 - .5}) rotate(-90)`).attr("dy", ".35em").attr("text-anchor", "middle").attr("font-size", 14).text("Relative abundance");

  gMarks[k].forEach(([mark, i, v]) => {
    const star = mark[0] === "*";
    g.append("text").attr("x", cx(i)).attr("y", y(v)).attr("dy", star ? ".57em" : ".35em").attr("text-anchor", "middle")
      .attr("class", star ? "bold" : null).attr("font-size", star ? 18 : 12.5).text(mark);
  });
  if (gNs[k]) {
    const [a, b, v] = gNs[k];
    g.append("path").attr("d", d3.line()([[cx(a), y(v)], [cx(b), y(v)]])).attr("stroke", "#000").attr("stroke-width", 2.2);
    g.append("text").attr("x", (cx(a) + cx(b)) / 2).attr("y", y(v) - 12).attr("dy", ".3em").attr("text-anchor", "middle").attr("font-size", 12.5).text("ns");
  }
}
gTitles.forEach((t, k) => drawPanel(k));
</script>
</body>
</html>
